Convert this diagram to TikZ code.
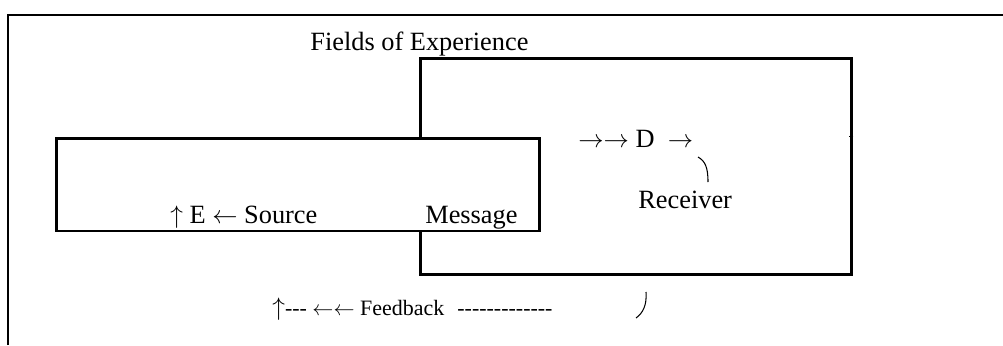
\documentclass[tikz,border=0pt]{standalone}
\usepackage{fontspec}
\setmainfont{Liberation Serif}
\usetikzlibrary{positioning}

\tikzset{
  box/.style={rectangle, draw=black, line width=1.7pt, fill=white, inner sep=0pt},
  txt/.style={inner sep=0pt, anchor=base west, font=\fontsize{15}{18}\selectfont},
  fbtxt/.style={inner sep=0pt, anchor=base west, font=\fontsize{12.5}{14}\selectfont},
  hook/.style={line width=0.6pt}
}

\begin{document}
\begin{tikzpicture}[x=0.02cm, y=-0.02cm]
    \useasboundingbox (0,0) rectangle (1003,345);

    % outer frame, open at right and bottom
    \draw [line width=1pt] (8,345) -- (8,15) -- (1003,15);
    \node [txt] (fields) at (310,50) {Fields of Experience};

    % receiver field - right
    \node [box, minimum width=8.64cm, minimum height=4.34cm] (receiverbox) at (636,166.5) {};
    % source field - left, over the receiver field
    \node [box, minimum width=9.68cm, minimum height=1.86cm] (sourcebox) at (298,184.5) {};
    \draw [line width=0.8pt] (receiverbox.east |- sourcebox.north) -- ++(-4,0);

    % texts
    \node [txt] (decode) at (578,147) {$\rightarrow\rightarrow$ D\hspace{0.5em}$\rightarrow$};
    \node [txt] (receiver) at (638,208) {Receiver};
    \node [txt] (source) at (170,223) {$\uparrow$ E $\leftarrow$ Source};
    \node [txt] (message) at (425,223) {Message};
    \node [fbtxt] (feedback) at (272,315) {{\fontsize{15}{18}\selectfont $\uparrow$}-{}-{}- $\leftarrow\leftarrow$ Feedback\hspace{0.6em}-{}-{}-{}-{}-{}-{}-{}-{}-{}-{}-{}-{}-};

    % hooks
    \draw [hook] (698,157) .. controls (705,161) and (708,167) .. (708,182);
    \draw [hook] (646,292) .. controls (647,305) and (643,313) .. (636,318);
\end{tikzpicture}
\end{document}
